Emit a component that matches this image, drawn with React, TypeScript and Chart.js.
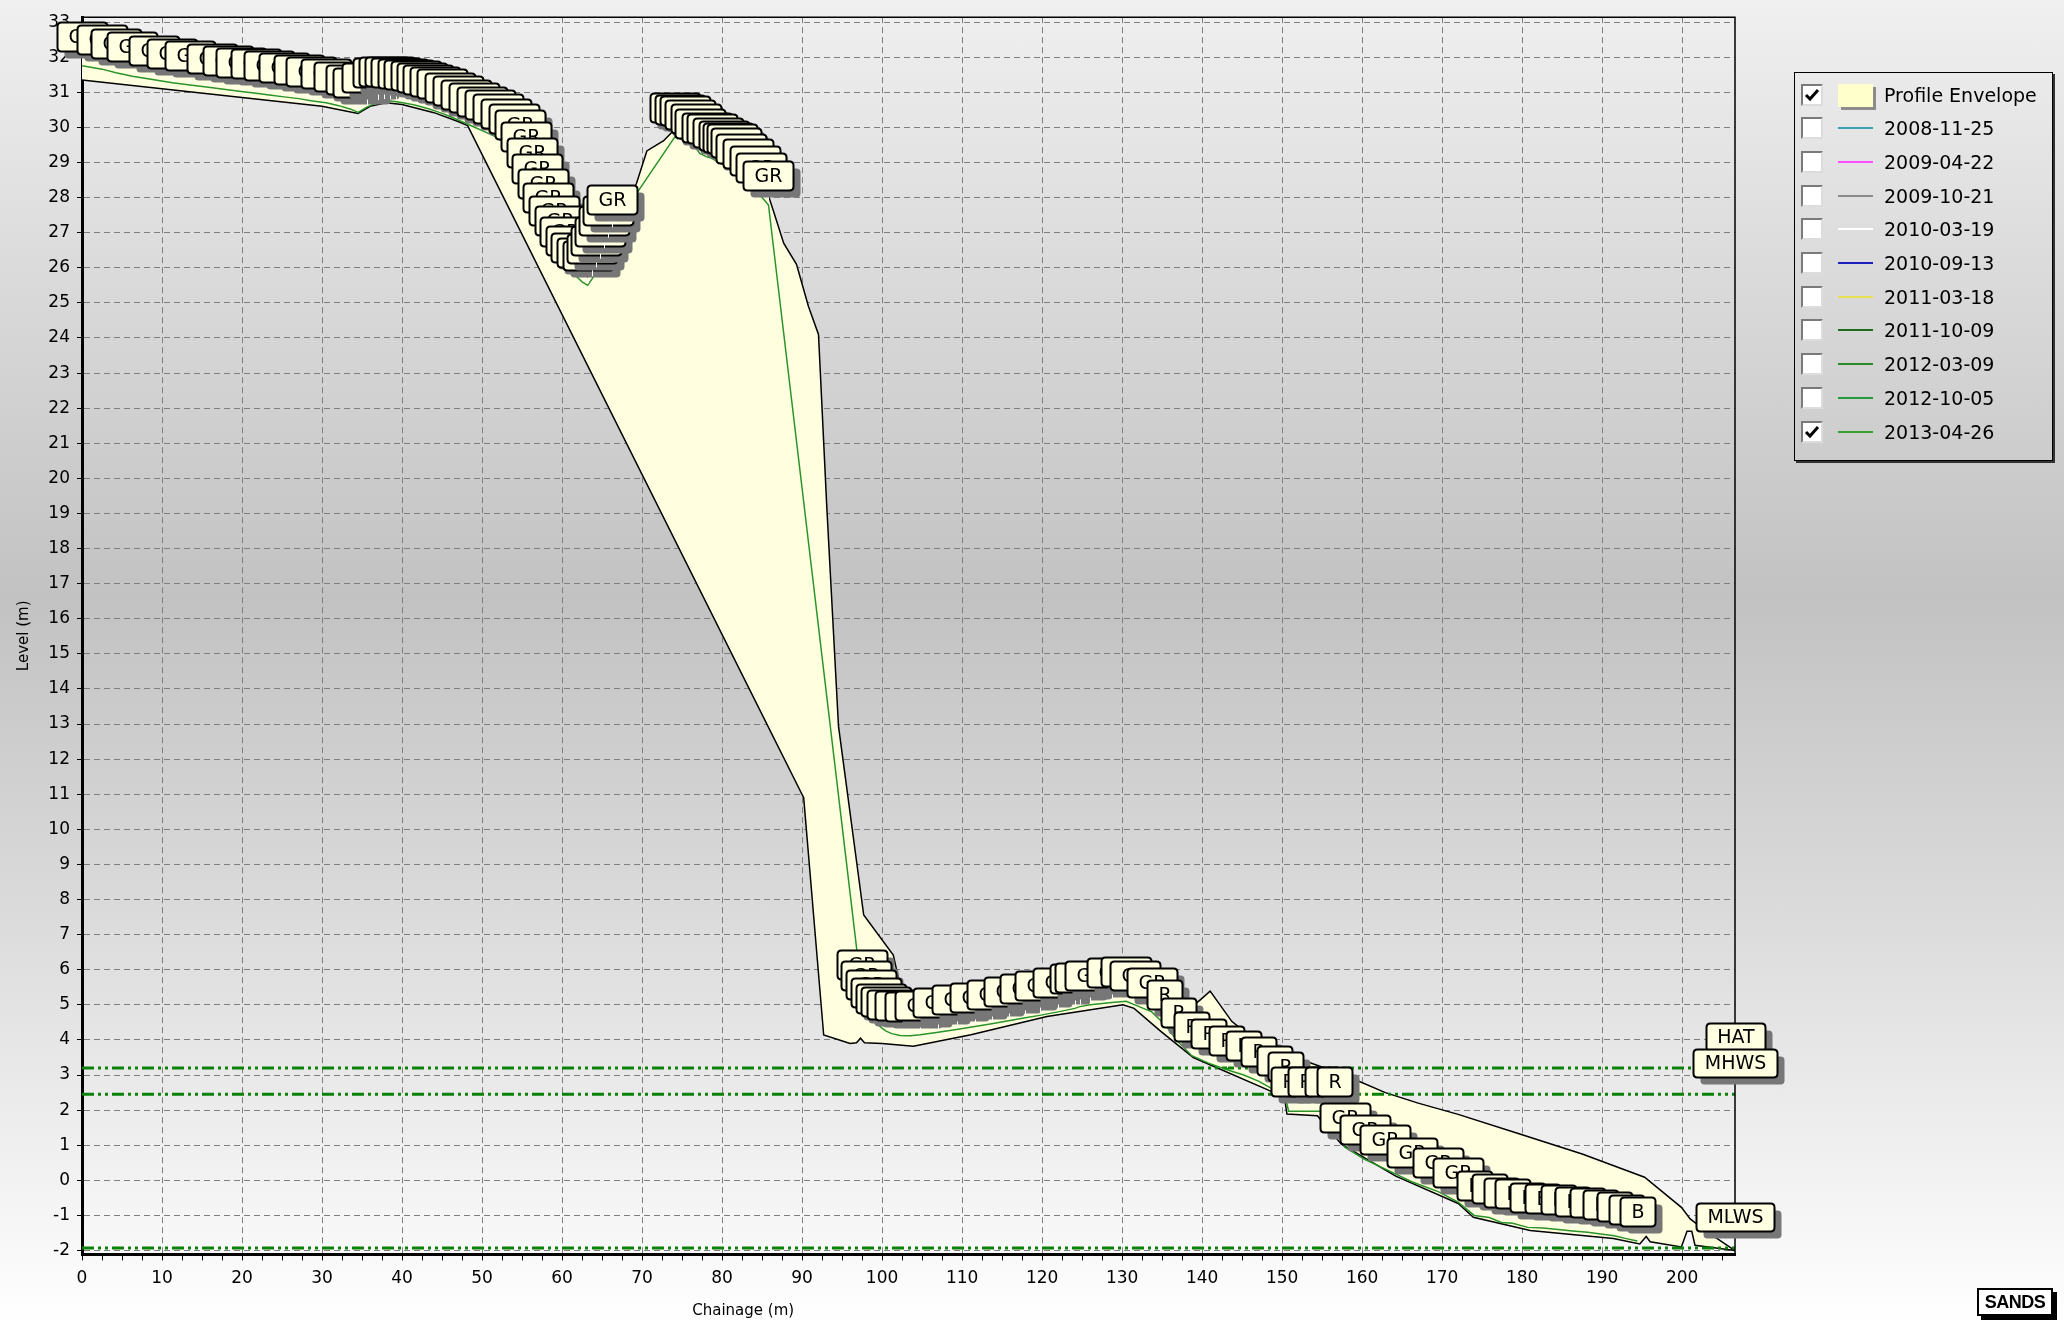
import React, { useEffect, useRef } from 'react';
import { Chart, registerables } from 'chart.js';

Chart.register(...registerables);

// ---------------- axis ranges / ticks ----------------
const X_MIN = 0;
const X_MAX = 206.6;
const Y_MIN = -2.11;
const Y_MAX = 33.14;
const X_MAJOR = 10;
const X_MINOR = 2.5;
const Y_FIRST_TICK = -2;
const Y_LAST_TICK = 33;

// ---------------- 2013-04-26 survey (chainage, level, feature code) ----------------
const CH_2013 = [
  0, 2.5, 4.25, 6.3, 9.0, 11.3, 13.5, 16.3, 18.2, 19.9,
  21.75, 23.4, 25.25, 27.1, 28.6, 30.5, 32.1, 33.6, 34.5, 35.6,
  36.96, 37.75, 38.5, 39.3, 40.1, 40.9, 41.7, 42.5, 43.3, 44.1,
  45.0, 46.0, 47.0, 48.0, 49.0, 50.0, 51.0, 52.0, 53.0, 54.0, 54.8,
  55.5, 56.2, 56.9, 57.6, 58.3, 59.0, 59.7, 60.4, 61.1, 61.8, 62.5, 63.2,
  63.8, 64.3, 64.8, 65.3, 65.8, 66.3,
  74.1, 74.75, 75.4, 76.0, 76.8, 77.2, 78.1, 78.7, 79.5, 80.2, 80.8, 81.2, 81.8, 82.4, 83.3, 84.1, 84.9, 85.8,
  97.5, 98.0, 98.6, 99.2, 99.9, 100.5, 101.2, 102.25, 103.5, 104.75, 107.0, 109.3, 111.6, 113.7, 115.8,
  117.9, 119.7, 122.0, 124.1, 124.7, 126.0, 128.7, 130.5, 131.6, 133.7,
  135.3, 137.0, 138.7, 140.8, 143.1, 145.2, 147.1, 149.0, 150.4, 150.8, 152.9, 155.0, 156.6,
  157.8, 160.3, 162.9, 166.2, 169.5, 172.0,
  174.0, 175.9, 177.4, 178.8, 180.7, 182.6, 184.5, 186.3, 188.2, 189.8, 191.5, 193.0, 194.4,
];
const LV_2013 = [
  31.76, 31.66, 31.56, 31.46, 31.36, 31.27, 31.21, 31.13, 31.07, 31.02,
  30.97, 30.92, 30.87, 30.82, 30.76, 30.70, 30.62, 30.52, 30.43, 30.58,
  30.72, 30.75, 30.75, 30.73, 30.70, 30.67, 30.63, 30.58, 30.53, 30.47,
  30.40, 30.31, 30.21, 30.11, 30.01, 29.91, 29.81, 29.70, 29.56, 29.41, 29.25,
  28.90, 28.45, 28.00, 27.55, 27.15, 26.80, 26.50, 26.20, 25.95, 25.75, 25.60, 25.50,
  25.70, 25.95, 26.20, 26.50, 26.80, 27.10,
  29.73, 29.68, 29.63, 29.54, 29.40, 29.26, 29.16, 29.12, 29.02, 28.93, 28.88, 28.83, 28.74, 28.55, 28.41, 28.22, 28.03, 27.79,
  5.30, 5.00, 4.75, 4.50, 4.35, 4.25, 4.18, 4.13, 4.12, 4.15, 4.22, 4.30, 4.38, 4.46, 4.55,
  4.63, 4.70, 4.80, 4.90, 4.95, 5.00, 5.07, 5.10, 5.00, 4.80,
  4.45, 3.95, 3.55, 3.34, 3.15, 3.00, 2.82, 2.58, 2.40, 1.97, 1.97, 1.97, 1.97,
  0.95, 0.60, 0.32, -0.04, -0.32, -0.62,
  -1.00, -1.06, -1.20, -1.22, -1.34, -1.36, -1.40, -1.44, -1.48, -1.53, -1.58, -1.66, -1.73,
];
const CODE_RUNS: [string, number][] = [['GR', 102], ['R', 13], ['GR', 6], ['B', 13]];
const CODE_2013: string[] = CODE_RUNS.flatMap(([c, n]) => Array(n).fill(c));

// ---------------- profile envelope (max / min of all surveys) ----------------
const ENV_MAX_CH = [
  0, 5, 10, 16, 20, 25, 30, 33.6, 34.5, 37, 40, 45, 50, 53, 54.8, 56.9, 59.7, 61.8, 63.2, 64.8,
  66.3, 68, 69.3, 70.6, 72.7, 74.1, 76, 80, 84, 85.8, 86.4, 87.7, 89.3, 90.8, 92.05, 93.1, 94.55,
  97.7, 101.4, 102.5, 105, 110, 115, 120, 125, 129, 131.5, 134, 136.5, 138.5, 139.8, 141, 143.7,
  146, 149, 152.2, 153.5, 154.7, 159.3, 162.9, 167, 172, 179.7, 187.5, 195.3, 199.9, 201, 203, 206.6,
];
const ENV_MAX_LV = [
  32.05, 31.8, 31.6, 31.4, 31.3, 31.15, 30.98, 30.8, 30.7, 30.98, 30.95, 30.65, 30.18, 29.82, 29.5, 28.3, 26.8, 26.0, 25.75, 26.45,
  27.4, 27.9, 28.4, 29.33, 29.62, 29.95, 29.8, 29.2, 28.5, 28.05, 27.63, 26.7, 26.1, 24.9, 24.1, 19.13, 12.94,
  7.56, 6.42, 5.3, 4.7, 4.8, 4.98, 5.18, 5.38, 5.5, 5.42, 5.1, 4.75, 4.9, 5.15, 5.39, 4.53,
  4.1, 3.7, 3.35, 3.35, 3.25, 2.85, 2.5, 2.2, 1.88, 1.32, 0.75, 0.09, -0.77, -1.1, -1.45, -2.0,
];
const ENV_MIN_CH = [
  0, 10, 20, 30, 34.5, 36, 38, 40, 44, 47, 48.2, 90.2, 92.7, 96.0, 96.8, 97.3, 97.8, 100, 103.9,
  111.1, 120.6, 130.1, 131.5, 134.8, 138.9, 148.5, 150.3, 150.6, 154.4, 157.4, 164.2, 172, 173.9,
  181, 191.4, 194.7, 195.5, 196, 199.9, 200.6, 201.2, 201.6, 206.6,
];
const ENV_MIN_LV = [
  31.35, 31.1, 30.85, 30.6, 30.4, 30.6, 30.7, 30.65, 30.42, 30.17, 30.05, 10.9, 4.14, 3.9, 3.92, 4.05, 3.92, 3.9, 3.82,
  4.15, 4.67, 5.0, 4.9, 4.25, 3.5, 2.55, 2.35, 1.89, 1.84, 1.03, 0.12, -0.66, -1.05,
  -1.43, -1.66, -1.81, -1.6, -1.75, -1.9, -1.45, -1.45, -1.85, -2.0,
];

// ---------------- tide levels ----------------
const TIDE_NAMES = ['HAT', 'MHWS', 'MLWS'];
const TIDE_LEVELS = [3.2, 2.45, -1.93];

// ---------------- legend ----------------
const LEGEND_NAMES = [
  'Profile Envelope', '2008-11-25', '2009-04-22', '2009-10-21', '2010-03-19', '2010-09-13',
  '2011-03-18', '2011-10-09', '2012-03-09', '2012-10-05', '2013-04-26',
];
const LEGEND_COLORS = [
  '#FFFFCC', '#3aa3b0', '#ff4dff', '#8c8c8c', '#ffffff', '#2020c0',
  '#e8e050', '#1f6e1f', '#2a8a2a', '#249a3a', '#33a033',
];
const LEGEND_CHECKED = [true, false, false, false, false, false, false, false, false, false, true];

// ---------------- styling ----------------
const W = 2064;
const H = 1325;
const PLOT_LEFT = 82;
const PLOT_TOP = 12.5;
const PLOT_RIGHT = 1735;
const PLOT_BOTTOM = 1254.4;
const FONT = '"DejaVu Sans", "Liberation Sans", Arial, sans-serif';
const ENVELOPE_FILL = '#FFFFE0';
const TAG_FILL = '#FFFFE1';
const SHADOW = '#777777';
const PROFILE_COLOR = '#2a932a';
const TIDE_COLOR = '#0a820a';
const GRID_COLOR = '#7f7f7f';

function roundRect(ctx: CanvasRenderingContext2D, x: number, y: number, w: number, h: number, r: number) {
  ctx.beginPath();
  ctx.moveTo(x + r, y);
  ctx.lineTo(x + w - r, y);
  ctx.quadraticCurveTo(x + w, y, x + w, y + r);
  ctx.lineTo(x + w, y + h - r);
  ctx.quadraticCurveTo(x + w, y + h, x + w - r, y + h);
  ctx.lineTo(x + r, y + h);
  ctx.quadraticCurveTo(x, y + h, x, y + h - r);
  ctx.lineTo(x, y + r);
  ctx.quadraticCurveTo(x, y, x + r, y);
  ctx.closePath();
}

function drawTag(ctx: CanvasRenderingContext2D, cx: number, bottom: number, text: string, h: number) {
  const w = Math.round(ctx.measureText(text).width + 22);
  const x = Math.round(cx - w / 2) + 0.5;
  const y = Math.round(bottom - h) + 0.5;
  ctx.fillStyle = SHADOW;
  roundRect(ctx, x + 7, y + 7, w, h, 4);
  ctx.fill();
  ctx.fillStyle = TAG_FILL;
  roundRect(ctx, x, y, w, h, 4);
  ctx.fill();
  ctx.lineWidth = 2;
  ctx.strokeStyle = '#000';
  ctx.stroke();
  ctx.fillStyle = '#000';
  ctx.fillText(text, x + w / 2, y + h / 2 + 1);
}

const annotationPlugin = {
  id: 'profileAnnotations',
  afterDatasetsDraw(chart: any) {
    const { ctx, chartArea, scales } = chart;
    const xs = scales.x;
    const ys = scales.y;
    ctx.save();
    // top / right frame
    ctx.strokeStyle = '#000';
    ctx.lineWidth = 1.5;
    ctx.beginPath();
    ctx.moveTo(chartArea.left, chartArea.top);
    ctx.lineTo(chartArea.right, chartArea.top);
    ctx.lineTo(chartArea.right, chartArea.bottom);
    ctx.stroke();

    // survey point tags
    ctx.font = `19px ${FONT}`;
    ctx.textAlign = 'center';
    ctx.textBaseline = 'middle';
    for (let i = 0; i < CH_2013.length; i++) {
      const px = xs.getPixelForValue(CH_2013[i]);
      const py = ys.getPixelForValue(LV_2013[i]);
      const bottom = py - 15;
      ctx.strokeStyle = '#ffffff';
      ctx.lineWidth = 1;
      ctx.beginPath();
      ctx.moveTo(Math.round(px) + 0.5, py - 2);
      ctx.lineTo(Math.round(px) + 0.5, bottom);
      ctx.stroke();
      drawTag(ctx, px, bottom, CODE_2013[i], 29);
    }

    // tide level tags
    for (let i = 0; i < TIDE_NAMES.length; i++) {
      const py = ys.getPixelForValue(TIDE_LEVELS[i]);
      drawTag(ctx, chartArea.right, py - 17, TIDE_NAMES[i], 28);
    }

    // axis titles
    ctx.fillStyle = '#000';
    ctx.font = `15px ${FONT}`;
    ctx.textAlign = 'center';
    ctx.textBaseline = 'middle';
    ctx.fillText('Chainage (m)', chartArea.left + (chartArea.right - chartArea.left) * 0.4, 1311);
    ctx.translate(24, (chartArea.top + chartArea.bottom) / 2);
    ctx.rotate(-Math.PI / 2);
    ctx.fillText('Level (m)', 0, 0);
    ctx.restore();
  },
};

function isMultiple(v: number, step: number) {
  const r = Math.abs(v / step - Math.round(v / step));
  return r < 1e-6;
}

export default function App() {
  const canvasRef = useRef<HTMLCanvasElement>(null);

  useEffect(() => {
    const canvas = canvasRef.current;
    if (!canvas) return;

    const envelopeData = [
      ...ENV_MAX_CH.map((c, i) => ({ x: c, y: ENV_MAX_LV[i] })),
      ...ENV_MIN_CH.map((c, i) => ({ x: c, y: ENV_MIN_LV[i] })).reverse(),
    ];
    const profileData = CH_2013.map((c, i) => ({ x: c, y: LV_2013[i] }));
    const tideSets = TIDE_NAMES.map((n, i) => ({
      label: n,
      data: [{ x: X_MIN, y: TIDE_LEVELS[i] }, { x: X_MAX, y: TIDE_LEVELS[i] }],
      showLine: true,
      fill: false,
      borderColor: TIDE_COLOR,
      borderWidth: 3,
      borderDash: [12, 4, 3, 4, 3, 4],
      pointRadius: 0,
      order: 2,
    }));

    const chart = new Chart(canvas, {
      type: 'scatter',
      data: {
        datasets: [
          {
            label: '2013-04-26',
            data: profileData,
            showLine: true,
            fill: false,
            borderColor: PROFILE_COLOR,
            borderWidth: 1.5,
            pointRadius: 0,
            order: 1,
          },
          ...tideSets,
          {
            label: 'Profile Envelope',
            data: envelopeData,
            showLine: true,
            fill: 'shape',
            backgroundColor: ENVELOPE_FILL,
            borderColor: '#000',
            borderWidth: 1.5,
            pointRadius: 0,
            order: 3,
          },
        ] as any,
      },
      options: {
        animation: false,
        responsive: false,
        events: [],
        layout: { padding: { left: 0, top: PLOT_TOP, right: W - PLOT_RIGHT, bottom: 0 } },
        plugins: { legend: { display: false }, tooltip: { enabled: false } },
        scales: {
          x: {
            type: 'linear',
            min: X_MIN,
            max: X_MAX,
            afterFit: (s: any) => { s.height = H - PLOT_BOTTOM; },
            afterBuildTicks: (s: any) => {
              const t: { value: number }[] = [];
              for (let v = X_MIN; v <= X_MAX + 1e-9; v += X_MINOR) t.push({ value: v });
              s.ticks = t;
            },
            border: { display: true, color: '#000', width: 3, dash: [6, 4] },
            grid: {
              color: (c: any) => (c.tick && isMultiple(c.tick.value, X_MAJOR) ? GRID_COLOR : 'rgba(0,0,0,0)'),
              lineWidth: 1,
              drawTicks: true,
              tickLength: 6,
              tickColor: '#000',
              tickWidth: 1,
            },
            ticks: {
              autoSkip: false,
              maxRotation: 0,
              minRotation: 0,
              padding: 8,
              color: '#000',
              font: { family: FONT, size: 17 },
              callback: (v: any) => (isMultiple(Number(v), X_MAJOR) ? String(Math.round(Number(v))) : ''),
            },
          },
          y: {
            type: 'linear',
            min: Y_MIN,
            max: Y_MAX,
            afterFit: (s: any) => { s.width = PLOT_LEFT; },
            afterBuildTicks: (s: any) => {
              const t: { value: number }[] = [];
              for (let v = Y_FIRST_TICK; v <= Y_LAST_TICK; v += 1) t.push({ value: v });
              s.ticks = t;
            },
            border: { display: true, color: '#000', width: 3, dash: [6, 4] },
            grid: {
              color: GRID_COLOR,
              lineWidth: 1,
              drawTicks: true,
              tickLength: 5,
              tickColor: '#000',
              tickWidth: 1,
            },
            ticks: {
              autoSkip: false,
              padding: 7,
              color: '#000',
              font: { family: FONT, size: 17 },
              callback: (v: any) => String(v),
            },
          },
        },
      } as any,
      plugins: [annotationPlugin],
    });
    return () => chart.destroy();
  }, []);

  const rowTop = (i: number) => 21.5 + i * 33.7;

  return (
    <div
      style={{
        position: 'fixed',
        left: 0,
        top: 0,
        width: W,
        height: H,
        overflow: 'hidden',
        background: 'linear-gradient(to bottom, #f0f0f0 0%, #d9d9d9 22%, #c2c2c2 45%, #dcdcdc 70%, #ffffff 100%)',
        fontFamily: FONT,
      }}
    >
      <canvas ref={canvasRef} width={W} height={H} style={{ position: 'absolute', left: 0, top: 0, width: W, height: H }} />
      <div
        style={{
          position: 'absolute',
          left: 1794,
          top: 72,
          width: 259,
          height: 389,
          boxSizing: 'border-box',
          border: '1px solid #000',
          boxShadow: '2px 2px 0 #333',
        }}
      >
        {LEGEND_NAMES.map((name, i) => (
          <div key={name} style={{ position: 'absolute', left: 0, top: rowTop(i) - 17, height: 34, width: 257 }}>
            <div
              style={{
                position: 'absolute',
                left: 6,
                top: 6,
                width: 22,
                height: 22,
                boxSizing: 'border-box',
                background: '#fff',
                borderStyle: 'solid',
                borderWidth: 2,
                borderColor: '#7a7a7a #dcdcdc #dcdcdc #7a7a7a',
              }}
            >
              {LEGEND_CHECKED[i] ? (
                <svg width={18} height={18} style={{ position: 'absolute', left: 0, top: 0 }}>
                  <path d="M3 9 L7 13 L15 4" stroke="#000" strokeWidth={3} fill="none" />
                </svg>
              ) : null}
            </div>
            {i === 0 ? (
              <>
                <div style={{ position: 'absolute', left: 46, top: 9, width: 35, height: 23, background: '#8c8c8c' }} />
                <div style={{ position: 'absolute', left: 43, top: 6, width: 35, height: 23, background: LEGEND_COLORS[i] }} />
              </>
            ) : (
              <div style={{ position: 'absolute', left: 43, top: 16, width: 35, height: 2, background: LEGEND_COLORS[i] }} />
            )}
            <div style={{ position: 'absolute', left: 89, top: 0, height: 34, lineHeight: '34px', fontSize: 19, color: '#000', whiteSpace: 'nowrap' }}>
              {name}
            </div>
          </div>
        ))}
      </div>
      <div
        style={{
          position: 'absolute',
          left: 1977,
          top: 1288,
          width: 76,
          height: 28,
          boxSizing: 'border-box',
          background: '#fff',
          border: '2px solid #000',
          boxShadow: '4px 4px 0 #000',
          fontFamily: '"Liberation Sans", Arial, sans-serif',
          fontWeight: 'bold',
          fontSize: 18,
          lineHeight: '24px',
          textAlign: 'center',
          color: '#000',
          letterSpacing: -0.5,
        }}
      >
        SANDS
      </div>
    </div>
  );
}
